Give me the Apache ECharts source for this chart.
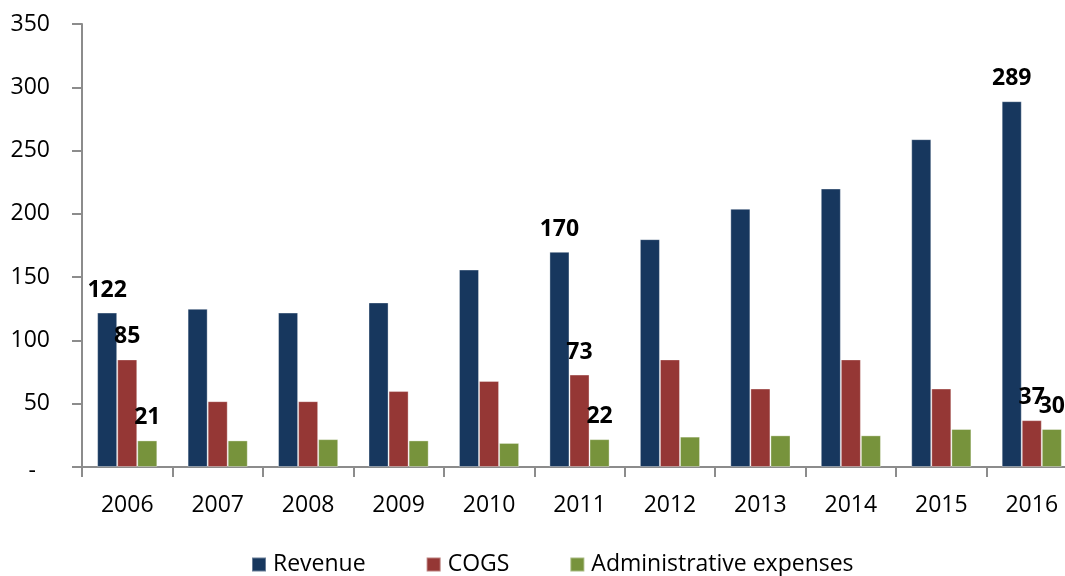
<!DOCTYPE html>
<html><head><meta charset="utf-8">
<script src="https://cdn.jsdelivr.net/npm/echarts@6/dist/echarts.min.js"></script>
<style>html,body{margin:0;padding:0;background:#fff}#c{width:1065px;height:576px}</style>
</head><body><div id="c"></div>
<script>
const years = ['2006','2007','2008','2009','2010','2011','2012','2013','2014','2015','2016'];
const revenue = [122,125,122,130,156,170,180,204,220,259,289];
const cogs = [85,52,52,60,68,73,85,62,85,62,37];
const admin = [21,21,22,21,19,22,24,25,25,30,30];
const labeledYears = ['2006','2011','2016'];
const seriesNames = ['Revenue','COGS','Administrative expenses'];
const colors = ['#17375E','#953735','#77933C'];
const FONT = 'Open Sans';

function mk(vals){
  return vals.map((v,i)=>({value:v,label:{show:labeledYears.includes(years[i])}}));
}
const chart = echarts.init(document.getElementById('c'));
chart.setOption({
  animation:false,
  grid:{left:82,top:24,height:443,width:995,containLabel:false,outerBoundsMode:'none'},
  legend:{
    top:548,left:246,itemWidth:14,itemHeight:14,itemGap:60,
    icon:'rect',
    textStyle:{fontFamily:FONT,fontSize:23,color:'#000',padding:[0,0,0,2]},
    data:seriesNames
  },
  xAxis:{
    type:'category',data:years,
    axisLine:{lineStyle:{color:'#8c8c8c',width:2}},
    axisTick:{show:true,length:10,lineStyle:{color:'#8c8c8c',width:2}},
    axisLabel:{fontFamily:FONT,fontSize:23,color:'#000',margin:27}
  },
  yAxis:{
    type:'value',min:0,max:350,interval:50,
    splitLine:{show:false},
    axisLine:{show:true,lineStyle:{color:'#8c8c8c',width:2}},
    axisTick:{show:true,length:10,lineStyle:{color:'#8c8c8c',width:2}},
    axisLabel:{fontFamily:FONT,fontSize:23,color:'#000',margin:32,
      formatter:v=>v===0?'{d|-}':String(v),
      rich:{d:{fontFamily:FONT,fontSize:23,color:'#000',padding:[8,14,0,0]}}}
  },
  series:[revenue,cogs,admin].map((arr,k)=>({
    name:seriesNames[k],type:'bar',data:mk(arr),
    barGap:'0%',barCategoryGap:'33.5%',
    itemStyle:{color:colors[k],borderColor:'rgba(255,255,255,0.35)',borderWidth:1},
    label:{position:'top',distance:11,fontFamily:FONT,fontSize:23,fontWeight:'bold',color:'#000'}
  }))
});
</script></body></html>
